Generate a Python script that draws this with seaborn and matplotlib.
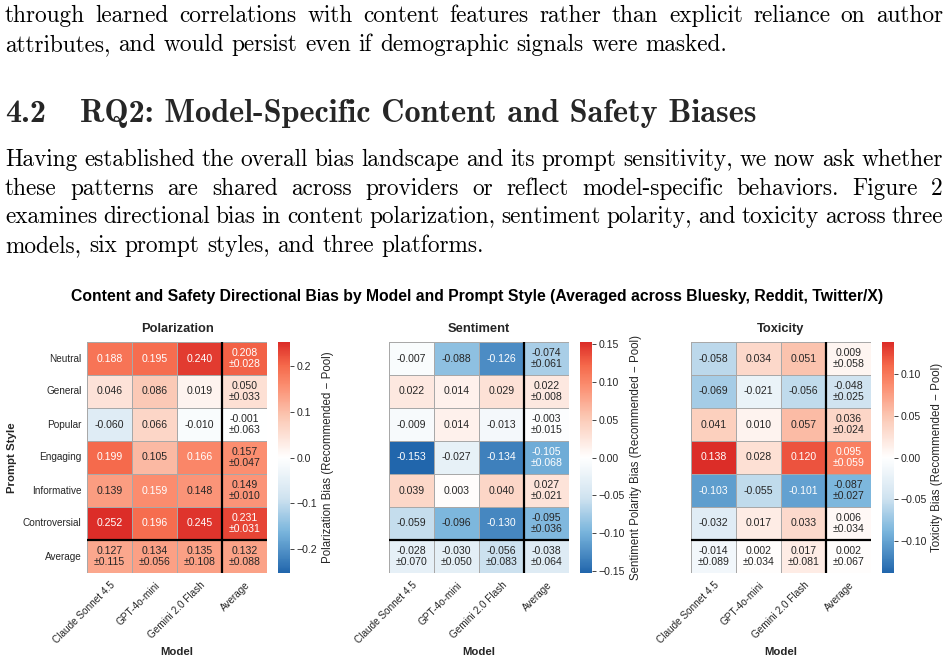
import numpy as np
import pandas as pd
import matplotlib
matplotlib.use("Agg")
import matplotlib.pyplot as plt
import seaborn as sns
from matplotlib.colors import LinearSegmentedColormap

# ---- data ----
models = ["Claude Sonnet 4.5", "GPT-4o-mini", "Gemini 2.0 Flash"]
styles = ["Neutral", "General", "Popular", "Engaging", "Informative", "Controversial"]

# rows = prompt style, cols = model
pol_vals = [[0.188, 0.195, 0.240],
            [0.046, 0.086, 0.019],
            [-0.060, 0.066, -0.010],
            [0.199, 0.105, 0.166],
            [0.139, 0.159, 0.148],
            [0.252, 0.196, 0.245]]
pol_style_mean = [0.208, 0.050, -0.001, 0.157, 0.149, 0.231]
pol_style_sd = [0.028, 0.033, 0.063, 0.047, 0.010, 0.031]
pol_model_mean = [0.127, 0.134, 0.135]
pol_model_sd = [0.115, 0.056, 0.108]
pol_overall = [0.132, 0.088]

sent_vals = [[-0.007, -0.088, -0.126],
             [0.022, 0.014, 0.029],
             [-0.009, 0.014, -0.013],
             [-0.153, -0.027, -0.134],
             [0.039, 0.003, 0.040],
             [-0.059, -0.096, -0.130]]
sent_style_mean = [-0.074, 0.022, -0.003, -0.105, 0.027, -0.095]
sent_style_sd = [0.061, 0.008, 0.015, 0.068, 0.021, 0.036]
sent_model_mean = [-0.028, -0.030, -0.056]
sent_model_sd = [0.070, 0.050, 0.083]
sent_overall = [-0.038, 0.064]

tox_vals = [[-0.058, 0.034, 0.051],
            [-0.069, -0.021, -0.056],
            [0.041, 0.010, 0.057],
            [0.138, 0.028, 0.120],
            [-0.103, -0.055, -0.101],
            [-0.032, 0.017, 0.033]]
tox_style_mean = [0.009, -0.048, 0.036, 0.095, -0.087, 0.006]
tox_style_sd = [0.058, 0.025, 0.024, 0.059, 0.027, 0.034]
tox_model_mean = [-0.014, 0.002, 0.017]
tox_model_sd = [0.089, 0.034, 0.081]
tox_overall = [0.002, 0.067]

# page text around the figure
para1 = ["through learned correlations with content features rather than explicit reliance on author",
         "attributes, and would persist even if demographic signals were masked."]
section_num = "4.2"
section_title = "RQ2: Model-Specific Content and Safety Biases"
para2 = ["Having established the overall bias landscape and its prompt sensitivity, we now ask whether",
         "these patterns are shared across providers or reflect model-specific behaviors.  Figure 2",
         "examines directional bias in content polarization, sentiment polarity, and toxicity across three",
         "models, six prompt styles, and three platforms."]

# ---- style ----
sns.set_style("white")
plt.rcParams["font.family"] = ["Liberation Sans", "DejaVu Sans"]
DARK = "#262626"

cmap = LinearSegmentedColormap.from_list(
    "bias",
    [(0.0, "#2166ac"), (0.175, "#78b4dc"), (0.325, "#d0e3f0"), (0.5, "#ffffff"),
     (0.675, "#fbc8b4"), (0.8135, "#fb8d6f"), (0.9, "#f5694b"), (1.0, "#dc2d28")])

W, H = 948, 660
fig = plt.figure(figsize=(W / 100, H / 100), dpi=100)
renderer = fig.canvas.get_renderer()

SERIF = ["cmr10", "DejaVu Serif"]
SERIF_BOLD = ["cmb10", "DejaVu Serif"]


def text_width(s, size, family):
    t = fig.text(0, 0, s, fontsize=size, family=family)
    w = t.get_window_extent(renderer).width
    t.remove()
    return w


def put_line(s, base_y, size, family, x0=5, x1=943, justify=True):
    words = s.split()
    arts = [fig.text(0, 1 - base_y / H, w, fontsize=size, family=family,
                     va="baseline", color="black") for w in words]
    widths = [a.get_window_extent(renderer).width for a in arts]
    if justify and len(words) > 1:
        gap = (x1 - x0 - sum(widths)) / (len(words) - 1)
    else:
        gap = size * 100 / 72 * 0.333
    x = x0
    for a, w in zip(arts, widths):
        a.set_x(x / W)
        x += w + gap


body_size = 10 * 728 / text_width(para1[1], 10, SERIF)
head_size = 10 * 675 / text_width(section_title, 10, SERIF_BOLD)

put_line(para1[0], 22, body_size, SERIF)
put_line(para1[1], 51, body_size, SERIF, justify=False)
fig.text(5 / W, 1 - 122 / H, section_num, fontsize=head_size, family=SERIF_BOLD, va="baseline")
fig.text(80 / W, 1 - 122 / H, section_title, fontsize=head_size, family=SERIF_BOLD, va="baseline")
for i, line in enumerate(para2):
    put_line(line, 166 + i * 28.7, body_size, SERIF, justify=(i < len(para2) - 1))

# ---- heatmaps ----
fig.text(477 / W, 1 - 296 / H,
         "Content and Safety Directional Bias by Model and Prompt Style (Averaged across Bluesky, Reddit, Twitter/X)",
         ha="center", va="center", fontsize=11.3, fontweight="bold", color="black")

panels = [
    ("Polarization", "Polarization Bias (Recommended \u2212 Pool)",
     pol_vals, pol_style_mean, pol_style_sd, pol_model_mean, pol_model_sd, pol_overall, 87, 278),
    ("Sentiment", "Sentiment Polarity Bias (Recommended \u2212 Pool)",
     sent_vals, sent_style_mean, sent_style_sd, sent_model_mean, sent_model_sd, sent_overall, 389, 580),
    ("Toxicity", "Toxicity Bias (Recommended \u2212 Pool)",
     tox_vals, tox_style_mean, tox_style_sd, tox_model_mean, tox_model_sd, tox_overall, 691, 882),
]

hm_top, hm_bot = 342, 573
for k, (title, clabel, vals, s_mean, s_sd, m_mean, m_sd, overall, left, cleft) in enumerate(panels):
    vals = np.array(vals)
    full = np.vstack([np.column_stack([vals, s_mean]), m_mean + [overall[0]]])
    labels = [[f"{v:.3f}" for v in row] + [f"{m:.3f}\n\u00b1{s:.3f}"]
              for row, m, s in zip(vals, s_mean, s_sd)]
    labels.append([f"{m:.3f}\n\u00b1{s:.3f}" for m, s in zip(m_mean + [overall[0]], m_sd + [overall[1]])])
    df = pd.DataFrame(full, index=styles + ["Average"], columns=models + ["Average"])
    vmax = np.abs(vals).max()

    ax = fig.add_axes([left / W, 1 - hm_bot / H, 180 / W, (hm_bot - hm_top) / H])
    cax = fig.add_axes([cleft / W, 1 - hm_bot / H, 12 / W, (hm_bot - hm_top) / H])
    sns.heatmap(df, ax=ax, cbar_ax=cax, cmap=cmap, vmin=-vmax, vmax=vmax, center=0,
                annot=np.array(labels), fmt="",
                annot_kws={"size": 7.6, "linespacing": 1.05},
                linewidths=0.5, linecolor="#a8a8a8",
                cbar_kws={"label": clabel})
    ax.axhline(6, color="black", lw=1.6)
    ax.axvline(3, color="black", lw=1.6)

    ax.set_title(title, fontsize=9.3, fontweight="bold", pad=7, color=DARK)
    ax.set_xticklabels(ax.get_xticklabels(), rotation=45, ha="right",
                       rotation_mode="anchor", fontsize=7.2, color=DARK)
    ax.tick_params(axis="x", length=0, pad=5)
    ax.set_xlabel("Model", fontsize=8.2, fontweight="bold", color=DARK, labelpad=1)
    if k == 0:
        ax.set_yticklabels(ax.get_yticklabels(), rotation=0, fontsize=7.2, color=DARK)
        ax.tick_params(axis="y", length=0, pad=4)
        ax.set_ylabel("Prompt Style", fontsize=8.2, fontweight="bold", color=DARK, labelpad=4)
    else:
        ax.set_yticks([])
        ax.set_ylabel("")

    cax.tick_params(labelsize=7.6, colors=DARK, length=3, width=0.6, pad=2)
    cax.set_ylabel(clabel, fontsize=8.3, color=DARK, labelpad=3)

fig.savefig("out.png", dpi=100)
